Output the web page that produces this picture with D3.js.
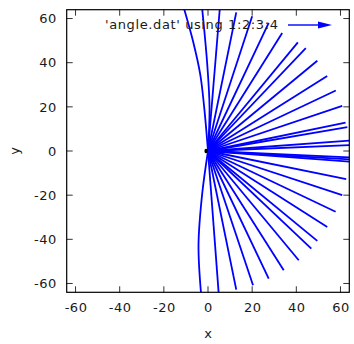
<!DOCTYPE html>
<html>
<head>
<meta charset="utf-8">
<script src="https://cdn.jsdelivr.net/npm/d3@7"></script>
<style>
  body { margin: 0; background: #fff; }
  text { font-family: "DejaVu Sans", sans-serif; }
</style>
</head>
<body>
<div id="wrapper"></div>
<script>
// straight vectors from the origin: end points
const rayX = [64, 64, 63.1, 62.3, 60.8, 57.9, 54, 49.5, 44.3, 40.7, 33.6, 27.5, 20, 12.8, 5.3,
              64, 64, 64, 62.6, 60.8, 57.8, 54, 49.5, 46.8, 41.1, 34.3, 27.5, 20.4, 12.8, 4.8];
const rayY = [2.7, 4.7, 10.8, 12.8, 20.4, 27.4, 34, 40.9, 46.6, 49.2, 53.4, 58, 61, 62.8, 64,
              -2.9, -3.8, -4.8, -12.7, -20, -27.5, -34.4, -40.7, -44.2, -49.5, -54, -57.8, -60.8, -62.8, -63.9];
// the bent ones on the left
const curveUpX = [0, -1.7, -3.5, -6.8, -11];
const curveUpY = [0, 19.5, 34.6, 49.8, 65];
const curveUp2X = [0, 0.7, -0.4, -2.7];
const curveUp2Y = [0, 19.5, 40, 65];
const curveDownX = [0, -2.7, -4.3, -3.2];
const curveDownY = [0, -20, -42.7, -64];
// black mark at the origin
const dotX = [-0.9];
const dotY = [0];

const xTicks = [-60, -40, -20, 0, 20, 40, 60];
const yTicks = [-60, -40, -20, 0, 20, 40, 60];
const keyLabel = "'angle.dat' using 1:2:3:4";

function drawChart() {
  let dimensions = {
    width: 354,
    height: 344,
    margin: { top: 9.7, right: 4.7, bottom: 51.7, left: 66.7 },
  };
  dimensions.boundedWidth = dimensions.width - dimensions.margin.left - dimensions.margin.right;
  dimensions.boundedHeight = dimensions.height - dimensions.margin.top - dimensions.margin.bottom;

  const svg = d3.select('#wrapper').append('svg')
    .attr('width', dimensions.width)
    .attr('height', dimensions.height);
  const bounds = svg.append('g')
    .attr('transform', `translate(${dimensions.margin.left},${dimensions.margin.top})`);

  const xScale = d3.scaleLinear().domain([-64, 64]).range([0, dimensions.boundedWidth]);
  const yScale = d3.scaleLinear().domain([-64, 64]).range([dimensions.boundedHeight, 0]);

  bounds.append('clipPath').attr('id', 'clip')
    .append('rect')
    .attr('width', dimensions.boundedWidth)
    .attr('height', dimensions.boundedHeight);

  const plot = bounds.append('g').attr('clip-path', 'url(#clip)');
  const line = d3.line().x(d => xScale(d[0])).y(d => yScale(d[1]));
  const curveLine = d3.line().x(d => xScale(d[0])).y(d => yScale(d[1])).curve(d3.curveCatmullRom);

  const rays = rayX.map((x, i) => [[0, 0], [x, rayY[i]]]);
  plot.selectAll('path.ray').data(rays).enter().append('path')
    .attr('class', 'ray')
    .attr('d', line)
    .attr('fill', 'none')
    .attr('stroke', '#0000ff')
    .attr('stroke-width', 1.8);

  const curves = [
    curveUpX.map((x, i) => [x, curveUpY[i]]),
    curveUp2X.map((x, i) => [x, curveUp2Y[i]]),
    curveDownX.map((x, i) => [x, curveDownY[i]]),
  ];
  plot.selectAll('path.curve').data(curves).enter().append('path')
    .attr('class', 'curve')
    .attr('d', curveLine)
    .attr('fill', 'none')
    .attr('stroke', '#0000ff')
    .attr('stroke-width', 1.8);

  plot.selectAll('ellipse').data(dotX).enter().append('ellipse')
    .attr('cx', (d, i) => xScale(d))
    .attr('cy', (d, i) => yScale(dotY[i]))
    .attr('rx', 1.6)
    .attr('ry', 2.2)
    .attr('fill', '#000');

  // ticks (inward, mirrored on all sides)
  const tickLen = 6;
  const bottomAxis = d3.axisBottom(xScale).tickValues(xTicks).tickFormat(d => String(d))
    .tickSize(0).tickPadding(10);
  const leftAxis = d3.axisLeft(yScale).tickValues(yTicks).tickFormat(d => String(d))
    .tickSize(0).tickPadding(10);

  const xAxis = bounds.append('g')
    .attr('transform', `translate(0,${dimensions.boundedHeight})`)
    .call(bottomAxis);
  const yAxis = bounds.append('g').call(leftAxis);
  [xAxis, yAxis].forEach(a => {
    a.select('.domain').remove();
    a.selectAll('text')
      .attr('fill', '#1a1a1a')
      .style('font-size', '13px')
      .style('letter-spacing', '0.5px')
      .style('font-family', '"DejaVu Sans", sans-serif');
  });

  const tickG = bounds.append('g').attr('stroke', '#333').attr('stroke-width', 1);
  xTicks.forEach(t => {
    tickG.append('line').attr('x1', xScale(t)).attr('x2', xScale(t))
      .attr('y1', dimensions.boundedHeight).attr('y2', dimensions.boundedHeight - tickLen);
    tickG.append('line').attr('x1', xScale(t)).attr('x2', xScale(t))
      .attr('y1', 0).attr('y2', tickLen);
  });
  yTicks.forEach(t => {
    tickG.append('line').attr('y1', yScale(t)).attr('y2', yScale(t))
      .attr('x1', 0).attr('x2', tickLen);
    tickG.append('line').attr('y1', yScale(t)).attr('y2', yScale(t))
      .attr('x1', dimensions.boundedWidth).attr('x2', dimensions.boundedWidth - tickLen);
  });

  bounds.append('rect')
    .attr('width', dimensions.boundedWidth)
    .attr('height', dimensions.boundedHeight)
    .attr('fill', 'none')
    .attr('stroke', '#000')
    .attr('stroke-width', 1.2);

  // key
  const key = bounds.append('g');
  key.append('text')
    .attr('x', 105 - dimensions.margin.left)
    .attr('y', 29.5 - dimensions.margin.top)
    .attr('textLength', 173)
    .attr('lengthAdjust', 'spacing')
    .attr('fill', '#1a1a1a')
    .style('font-size', '13px')
    .text(keyLabel);
  const ky = 25 - dimensions.margin.top;
  key.append('line')
    .attr('x1', 288 - dimensions.margin.left).attr('x2', 320 - dimensions.margin.left)
    .attr('y1', ky).attr('y2', ky)
    .attr('stroke', '#0000ff').attr('stroke-width', 1.4);
  const hx = 332 - dimensions.margin.left;
  key.append('path')
    .attr('d', `M${hx},${ky} L${hx - 14},${ky - 3.5} L${hx - 14},${ky + 3.5} Z`)
    .attr('fill', '#0000ff');

  // axis labels
  svg.append('text')
    .attr('x', dimensions.margin.left + xScale(0))
    .attr('y', 338)
    .attr('text-anchor', 'middle')
    .attr('fill', '#1a1a1a')
    .style('font-size', '13px')
    .text('x');
  svg.append('text')
    .attr('transform', `translate(19,${dimensions.margin.top + yScale(0)}) rotate(-90)`)
    .attr('text-anchor', 'middle')
    .attr('fill', '#1a1a1a')
    .style('font-size', '13px')
    .text('y');
}
drawChart();
</script>
</body>
</html>
